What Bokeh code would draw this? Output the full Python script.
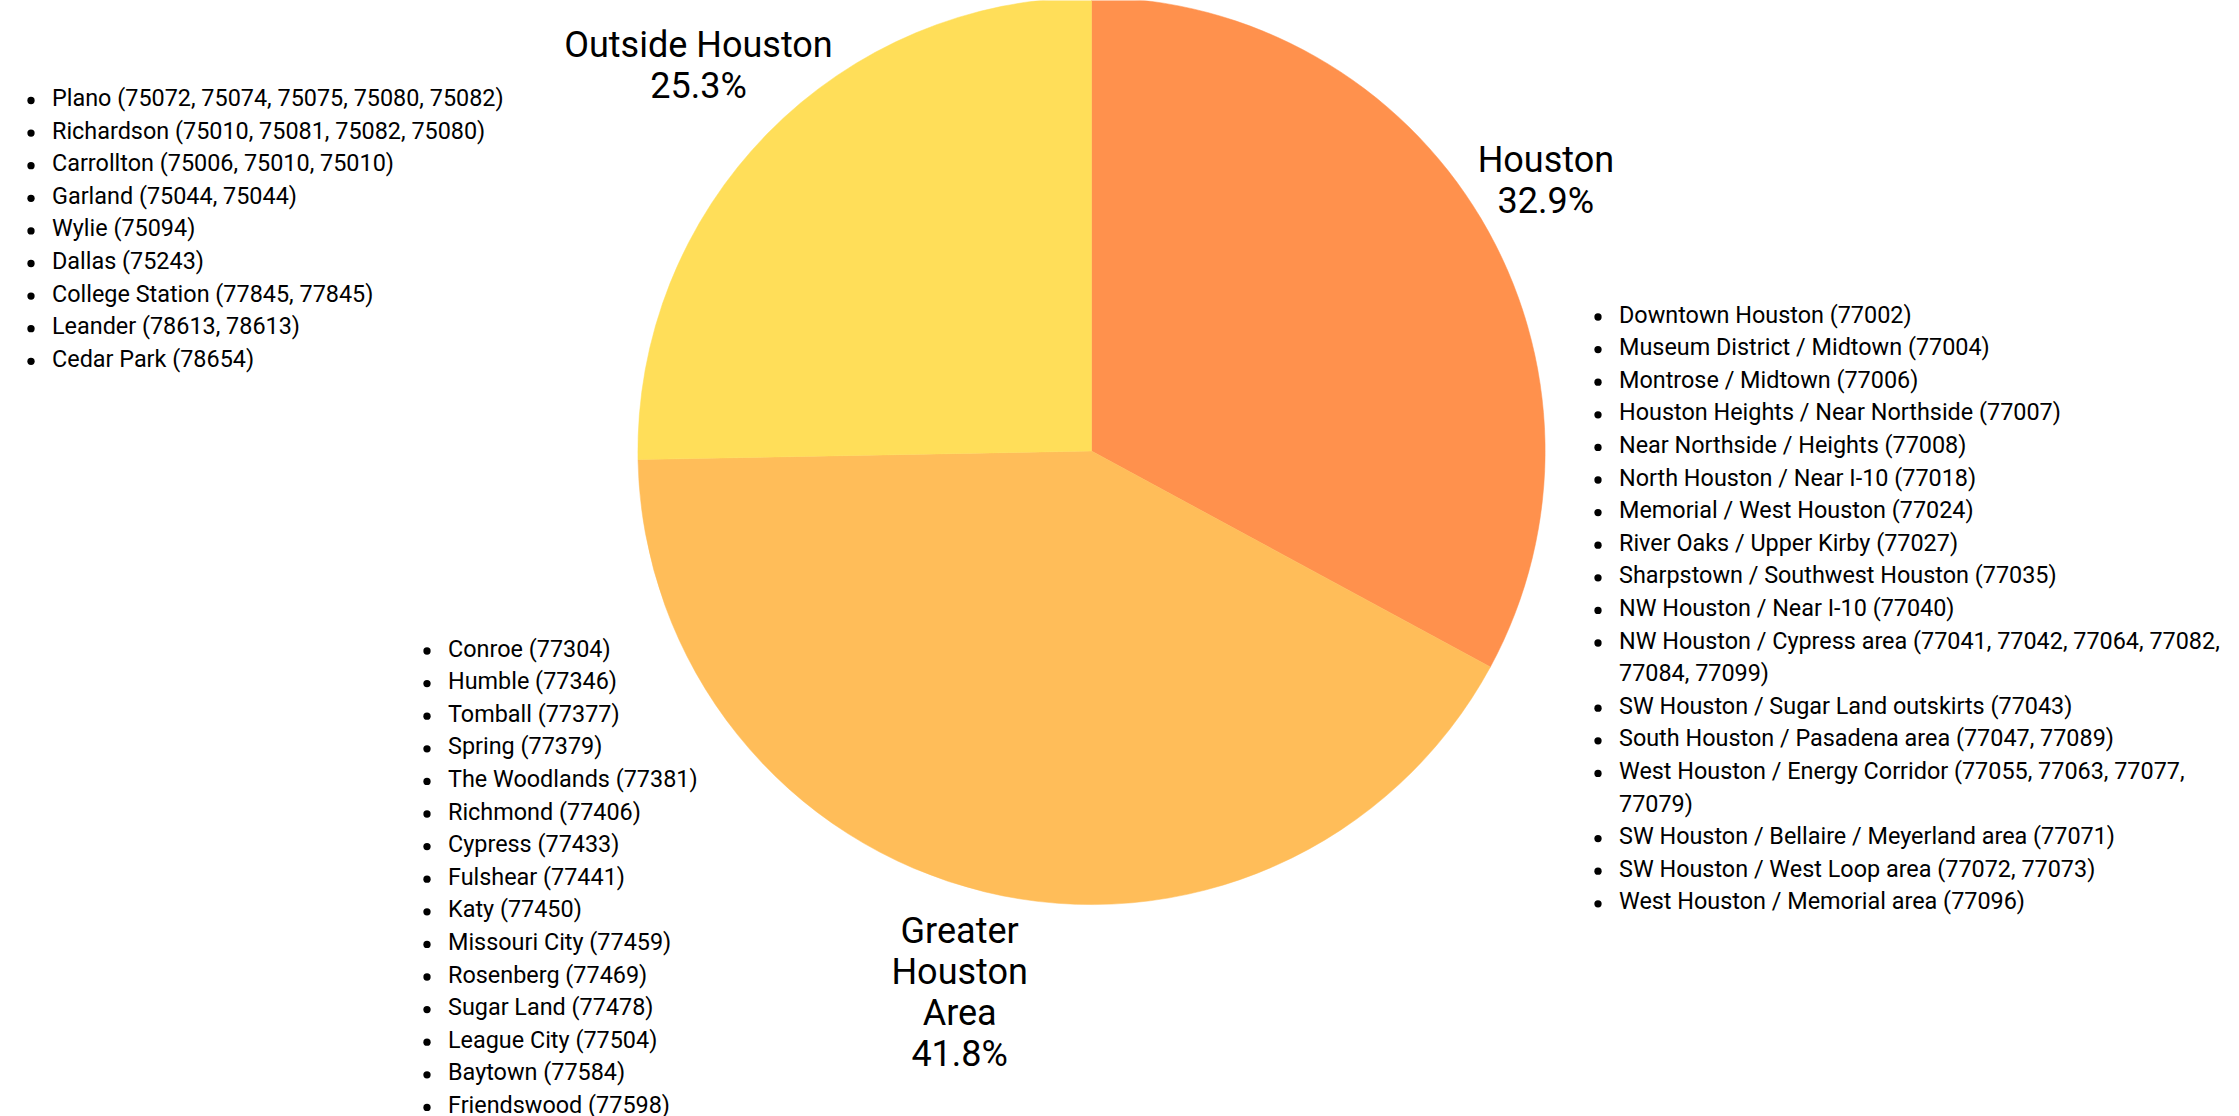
import math
import textwrap
from bokeh.plotting import figure
from bokeh.models import Range1d, ColumnDataSource
from bokeh.core.properties import value
from bokeh.embed import file_html
from bokeh.resources import INLINE

# ---------------- data ----------------
categories = ["Houston", "Greater Houston Area", "Outside Houston"]
shares = [32.9, 41.8, 25.3]
colors = ["#FF914D", "#FFBD59", "#FFDE59"]

houston_areas = [
    "Downtown Houston (77002)",
    "Museum District / Midtown (77004)",
    "Montrose / Midtown (77006)",
    "Houston Heights / Near Northside (77007)",
    "Near Northside / Heights (77008)",
    "North Houston / Near I-10 (77018)",
    "Memorial / West Houston (77024)",
    "River Oaks / Upper Kirby (77027)",
    "Sharpstown / Southwest Houston (77035)",
    "NW Houston / Near I-10 (77040)",
    "NW Houston / Cypress area (77041, 77042, 77064, 77082, 77084, 77099)",
    "SW Houston / Sugar Land outskirts (77043)",
    "South Houston / Pasadena area (77047, 77089)",
    "West Houston / Energy Corridor (77055, 77063, 77077, 77079)",
    "SW Houston / Bellaire / Meyerland area (77071)",
    "SW Houston / West Loop area (77072, 77073)",
    "West Houston / Memorial area (77096)",
]

greater_houston_areas = [
    "Conroe (77304)",
    "Humble (77346)",
    "Tomball (77377)",
    "Spring (77379)",
    "The Woodlands (77381)",
    "Richmond (77406)",
    "Cypress (77433)",
    "Fulshear (77441)",
    "Katy (77450)",
    "Missouri City (77459)",
    "Rosenberg (77469)",
    "Sugar Land (77478)",
    "League City (77504)",
    "Baytown (77584)",
    "Friendswood (77598)",
]

outside_houston_areas = [
    "Plano (75072, 75074, 75075, 75080, 75082)",
    "Richardson (75010, 75081, 75082, 75080)",
    "Carrollton (75006, 75010, 75010)",
    "Garland (75044, 75044)",
    "Wylie (75094)",
    "Dallas (75243)",
    "College Station (77845, 77845)",
    "Leander (78613, 78613)",
    "Cedar Park (78654)",
]

# ---------------- layout ----------------
W, H = 2223, 1116
FONT = "Roboto"


def Y(sy):
    return H - sy


p = figure(width=W, height=H, x_range=Range1d(0, W), y_range=Range1d(0, H),
           output_backend="svg", toolbar_location=None, min_border=0)
p.axis.visible = False
p.grid.visible = False
p.outline_line_color = None
p.background_fill_color = "white"
p.border_fill_color = "white"

# pie
cx, cy_s, r = 1091.0, 450.5, 453.6
cy = Y(cy_s)
total = sum(shares)
starts, ends, mids = [], [], []
cum = 0.0
for v in shares:
    a0 = math.pi / 2 - 2 * math.pi * cum / total
    cum += v
    a1 = math.pi / 2 - 2 * math.pi * cum / total
    starts.append(a0)
    ends.append(a1)
    mids.append((a0 + a1) / 2)

pie_src = ColumnDataSource(dict(start=starts, end=ends, color=colors, cat=categories))
p.wedge(x=cx, y=cy, radius=r, start_angle="start", end_angle="end", direction="clock",
        fill_color="color", line_color="color", line_width=0.5, source=pie_src)

# slice labels (outside the pie, along the mid angle), one glyph row per line
label_dist = [1.166, 1.229, 1.214]
label_wrap = [30, 8, 30]
LABEL_LINE = 41.0
lx, ly, lt = [], [], []
for cat, v, m, d, w in zip(categories, shares, mids, label_dist, label_wrap):
    bx = cx + d * r * math.cos(m)
    by_s = cy_s - d * r * math.sin(m)
    lines = textwrap.wrap(cat, w) + [f"{v:.1f}%"]
    n = len(lines)
    for i, ln in enumerate(lines):
        lx.append(bx)
        ly.append(Y(by_s + (i - (n - 1) / 2) * LABEL_LINE))
        lt.append(ln)
p.text(x=lx, y=ly, text=lt, text_font=value(FONT), text_font_size="36px",
       text_align="center", text_baseline="middle", text_color="#000000")

# bulleted lists
LINE = 32.6
BULLET_OFF = 21


def draw_list(items, tx, top_sy, wrap_chars):
    xs, ys, ts, bx, by = [], [], [], [], []
    row = 0
    for it in items:
        lines = textwrap.wrap(it, wrap_chars)
        for k, ln in enumerate(lines):
            sy = top_sy + row * LINE
            xs.append(tx)
            ys.append(Y(sy))
            ts.append(ln)
            if k == 0:
                bx.append(tx - BULLET_OFF)
                by.append(Y(sy + 2.5))
            row += 1
    p.text(x=xs, y=ys, text=ts, text_font=value(FONT), text_font_size="23.4px",
           text_align="left", text_baseline="middle", text_color="#000000")
    p.scatter(x=bx, y=by, size=7.3, marker="circle", fill_color="#000000", line_color=None)


draw_list(outside_houston_areas, 51.5, 97.5, 80)
draw_list(greater_houston_areas, 447.5, 648.0, 80)
draw_list(houston_areas, 1618.5, 314.0, 54)

open("out.html", "w").write(file_html(p, INLINE))
